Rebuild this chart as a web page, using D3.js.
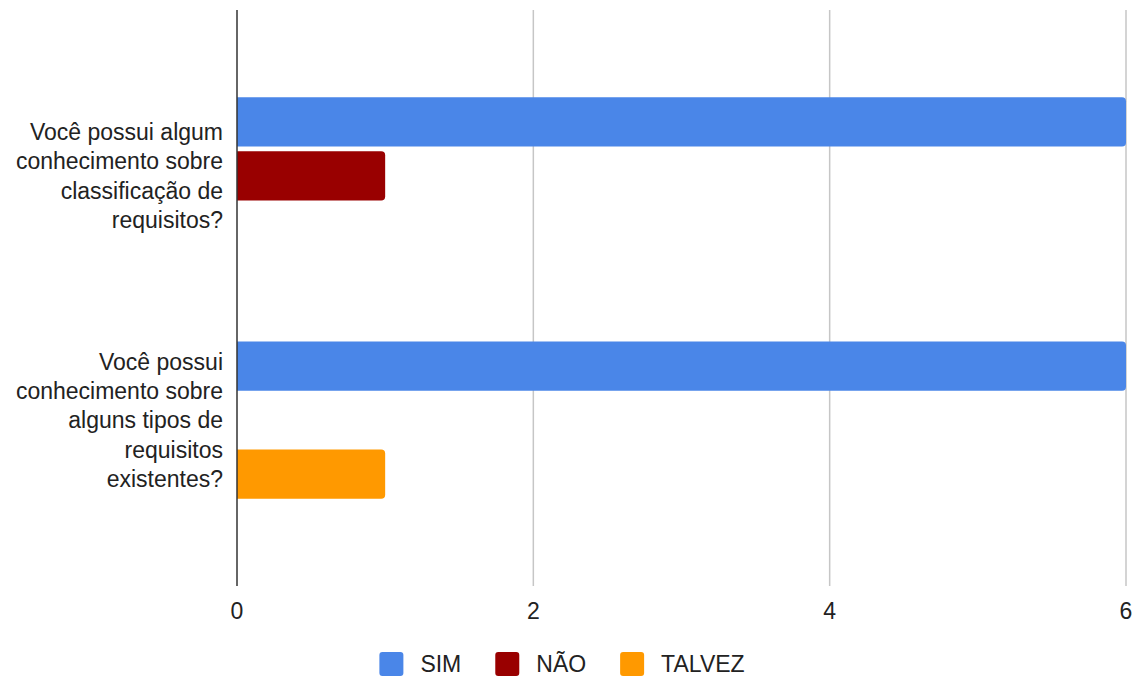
<!DOCTYPE html>
<html><head><meta charset="utf-8">
<script src="https://cdn.jsdelivr.net/npm/d3@7"></script>
<style>body{margin:0;background:#fff}svg{display:block}text{font-family:"Liberation Sans",Arial,sans-serif;fill:#222}</style>
</head><body>
<svg id="c" width="1144" height="677"></svg>
<script>
const categories = [
  ["Você possui algum","conhecimento sobre","classificação de","requisitos?"],
  ["Você possui","conhecimento sobre","alguns tipos de","requisitos","existentes?"]
];
const seriesNames = ["SIM","NÃO","TALVEZ"];
const seriesColors = ["#4a86e8","#990000","#ff9900"];
const SIM = [6,6];
const NAO = [1,0];
const TALVEZ = [0,1];
const xTicks = [0,2,4,6];

const values = [SIM, NAO, TALVEZ];
const svg = d3.select("#c");
const pLeft = 237, pRight = 1126, pTop = 10, pBottom = 586;
const fs = 23;

const x = d3.scaleLinear().domain([0,6]).range([pLeft,pRight]);
const catIdx = categories.map((d,i)=>i);
const y0 = d3.scaleBand().domain(catIdx).range([pTop,pBottom]).padding(0.357);
const y1 = d3.scaleBand().domain(seriesNames).range([0,y0.bandwidth()]).paddingInner(0.09);

svg.append("g").selectAll("line").data(xTicks.filter(t=>t!==0)).join("line")
  .attr("x1",d=>x(d)).attr("x2",d=>x(d)).attr("y1",pTop).attr("y2",pBottom)
  .attr("stroke","#c6c6c6").attr("stroke-width",1.5);

function barPath(x0,x1,yy,h,r){
  const w = x1-x0; if(w<=0) return "";
  r = Math.min(r,w);
  return `M${x0},${yy}H${x1-r}Q${x1},${yy} ${x1},${yy+r}V${yy+h-r}Q${x1},${yy+h} ${x1-r},${yy+h}H${x0}Z`;
}
const bars = [];
catIdx.forEach(ci=>seriesNames.forEach((s,si)=>bars.push({ci,s,si,v:values[si][ci]})));
svg.append("g").selectAll("path").data(bars.filter(b=>b.v>0)).join("path")
  .attr("d",b=>barPath(x(0),x(b.v),y0(b.ci)+y1(b.s),y1.bandwidth(),4))
  .attr("fill",b=>seriesColors[b.si]);

svg.append("line").attr("x1",x(0)).attr("x2",x(0)).attr("y1",pTop).attr("y2",pBottom)
  .attr("stroke","#333").attr("stroke-width",1.5);

svg.append("g").selectAll("text").data(xTicks).join("text")
  .attr("x",d=>x(d)).attr("y",611).attr("dy","0.35em").attr("text-anchor","middle")
  .attr("font-size",fs).text(d=>d);

const lh = 29.3;
catIdx.forEach(ci=>{
  const lines = categories[ci];
  const cy = y0(ci)+y0.bandwidth()/2;
  const t = svg.append("text").attr("text-anchor","end").attr("font-size",fs);
  lines.forEach((ln,li)=>{
    t.append("tspan").attr("x",223).attr("y",cy+(li-(lines.length-1)/2)*lh).attr("dy","0.35em").text(ln);
  });
});

const lg = svg.append("g");
let cx = 0;
seriesNames.forEach((s,i)=>{
  const g = lg.append("g");
  g.append("rect").attr("x",0).attr("y",-12).attr("width",24).attr("height",24).attr("rx",3).attr("fill",seriesColors[i]);
  const tt = g.append("text").attr("x",41).attr("y",0).attr("dy","0.35em").attr("font-size",fs).text(s);
  const w = 41 + tt.node().getComputedTextLength();
  g.attr("transform",`translate(${cx},0)`);
  cx += w + 34;
});
const total = cx - 34;
lg.attr("transform",`translate(${562-total/2},664)`);
</script>
</body></html>
